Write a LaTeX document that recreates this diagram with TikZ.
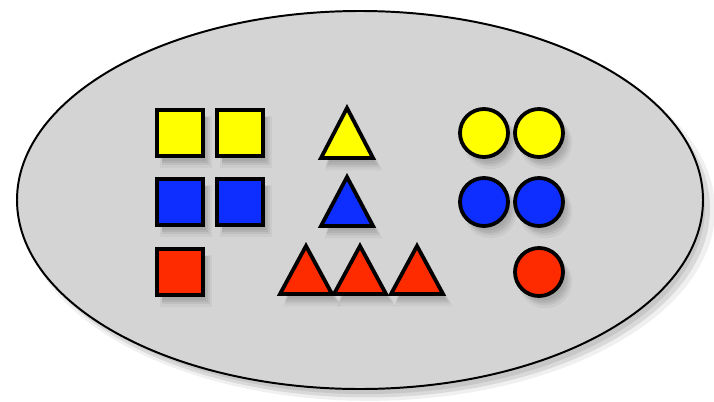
\documentclass[tikz,border=0pt]{standalone}
\usepackage{tikz}
\usetikzlibrary{positioning,shadows,calc}
\definecolor{paleGray}{HTML}{D4D4D4}
\definecolor{shapeYellow}{HTML}{FFFF00}
\definecolor{shapeBlue}{HTML}{0D2EFF}
\definecolor{shapeRed}{HTML}{FF2B00}
\tikzset{
  soft shadow/.style={
    drop shadow={shadow xshift=4pt, shadow yshift=-6pt, opacity=0.10, shadow scale=1.12},
    drop shadow={shadow xshift=4pt, shadow yshift=-5.5pt, opacity=0.15, shadow scale=1.05},
    drop shadow={shadow xshift=3.5pt, shadow yshift=-5pt, opacity=0.2},
    drop shadow={shadow xshift=3pt, shadow yshift=-4.5pt, opacity=0.2, shadow scale=0.94}},
  piece/.style={draw=black, line width=2.7pt, line join=miter, soft shadow},
  square/.style={piece, rectangle, minimum size=1.16cm, inner sep=0pt},
  disc/.style={piece, circle, minimum size=1.2cm, inner sep=0pt},
  triangle/.style={piece},
  field/.style={draw=black, line width=1.4pt, fill=paleGray,
    drop shadow={shadow xshift=6pt, shadow yshift=-7pt, opacity=0.12, shadow scale=1.01},
    drop shadow={shadow xshift=5pt, shadow yshift=-6pt, opacity=0.2},
    drop shadow={shadow xshift=4pt, shadow yshift=-5pt, opacity=0.2, shadow scale=0.99}}
}
\begin{document}
\begin{tikzpicture}[x=0.025cm, y=-0.025cm]
\useasboundingbox (0,0) rectangle (714,401);
% the set
\draw[field] (360,200) ellipse [x radius=343, y radius=189];
% squares
\node[square, fill=shapeYellow] (sqY1) at (180,133) {};
\node[square, fill=shapeYellow] (sqY2) at (240,133) {};
\node[square, fill=shapeBlue] (sqB1) at (180,202) {};
\node[square, fill=shapeBlue] (sqB2) at (240,202) {};
\node[square, fill=shapeRed] (sqR1) at (180,272) {};
% triangles
\draw[triangle, fill=shapeYellow] (347,108) -- (373,158) -- (321,158) -- cycle;
\draw[triangle, fill=shapeBlue] (347,177) -- (373,226) -- (321,226) -- cycle;
\foreach \ax in {306,360,417}
  \draw[triangle, fill=shapeRed] (\ax,246) -- (\ax+26,294) -- (\ax-26,294) -- cycle;
% circles
\node[disc, fill=shapeYellow] (ciY1) at (484,133) {};
\node[disc, fill=shapeYellow] (ciY2) at (539,133) {};
\node[disc, fill=shapeBlue] (ciB1) at (484,202) {};
\node[disc, fill=shapeBlue] (ciB2) at (539,202) {};
\node[disc, fill=shapeRed] (ciR1) at (539,272) {};
\end{tikzpicture}
\end{document}
